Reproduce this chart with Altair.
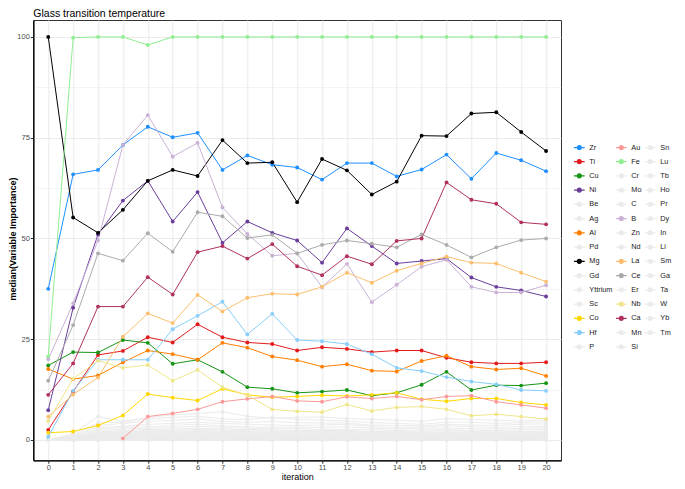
import altair as alt
import pandas as pd

iterations = list(range(21))

legend_col1 = ["Zr", "Ti", "Cu", "Ni", "Be", "Ag", "Al", "Pd", "Mg", "Gd", "Yttrium", "Sc", "Co", "Hf", "P"]
legend_col2 = ["Au", "Fe", "Cr", "Mo", "C", "B", "Zn", "Nd", "La", "Ce", "Er", "Nb", "Ca", "Mn", "Si"]
legend_col3 = ["Sn", "Lu", "Tb", "Ho", "Pr", "Dy", "In", "Li", "Sm", "Ga", "Ta", "W", "Yb", "Tm"]

highlight_colors = {
    "Zr": "#1E90FF", "Ti": "#E31A1C", "Cu": "#159415", "Ni": "#6A3D9A",
    "Al": "#FF7F00", "Mg": "#000000", "Co": "#FFD700", "Hf": "#87CEFA",
    "Au": "#FB9A99", "Fe": "#90EE90", "B": "#CAB2D6", "La": "#FDBF6F",
    "Ce": "#ABABAB", "Nb": "#F0E68C", "Ca": "#B03060",
}
GRAY = "#EBEBEB"

# highlighted series (median variable importance per iteration)
Zr = [37.5, 65.9, 67.0, 73.2, 77.7, 75.1, 76.2, 67.0, 70.6, 68.3, 67.6, 64.6, 68.7, 68.7, 65.4, 67.1, 70.8, 64.8, 71.2, 69.4, 66.7]
Ti = [2.5, 12.0, 21.1, 22.1, 25.5, 24.2, 28.7, 25.5, 24.2, 23.8, 22.2, 23.0, 22.6, 21.8, 22.2, 22.2, 20.4, 19.3, 19.0, 19.0, 19.3]
Cu = [18.5, 21.8, 21.7, 24.8, 24.1, 18.9, 19.9, 16.9, 13.1, 12.7, 11.7, 12.0, 12.4, 11.0, 11.7, 13.7, 16.9, 12.4, 13.6, 13.5, 14.1]
Ni = [7.4, 32.8, 51.0, 59.4, 64.3, 54.2, 61.5, 48.9, 54.2, 51.4, 49.5, 44.0, 52.5, 48.1, 43.8, 44.4, 45.0, 40.3, 38.0, 37.1, 35.6]
Al = [17.6, 15.1, 16.0, 19.3, 22.2, 21.3, 19.9, 24.1, 22.9, 20.7, 19.8, 18.2, 18.8, 17.2, 17.0, 19.6, 20.9, 18.2, 17.5, 17.8, 15.9]
Mg = [100.0, 55.2, 51.4, 57.1, 64.3, 67.0, 65.5, 74.4, 68.7, 68.9, 59.0, 69.7, 66.9, 60.9, 64.1, 75.5, 75.4, 81.0, 81.3, 76.4, 71.7]
Co = [1.8, 2.1, 3.6, 6.1, 11.4, 10.5, 9.8, 12.7, 11.2, 10.6, 10.8, 11.1, 10.9, 11.2, 11.7, 10.1, 9.6, 10.3, 10.3, 9.3, 8.7]
Hf = [0.8, 12.2, 19.9, 19.9, 19.9, 27.5, 30.8, 34.3, 26.2, 31.3, 24.8, 24.5, 23.8, 21.3, 17.9, 17.1, 15.6, 14.5, 13.8, 12.4, 12.2]
Au = [None, None, None, 0.4, 5.8, 6.6, 7.6, 9.5, 10.2, 10.8, 9.7, 9.5, 10.7, 10.3, 10.8, 10.0, 10.8, 11.0, 9.5, 8.7, 7.9]
Fe = [20.7, 99.8, 100.0, 100.0, 98.0, 100.0, 100.0, 100.0, 100.0, 100.0, 100.0, 100.0, 100.0, 100.0, 100.0, 100.0, 100.0, 100.0, 100.0, 100.0, 100.0]
B = [20.0, 33.9, 49.5, 73.2, 80.6, 70.3, 73.7, 57.7, 51.1, 45.7, 46.3, 37.9, 43.7, 34.2, 38.5, 43.0, 44.7, 38.0, 36.6, 36.6, 38.4]
La = [5.8, 11.3, 15.5, 25.6, 31.4, 29.0, 36.0, 31.9, 35.3, 36.3, 36.1, 38.0, 41.5, 39.0, 42.0, 43.8, 45.5, 44.0, 43.8, 41.5, 39.3]
Ce = [14.7, 28.5, 46.3, 44.5, 51.3, 46.7, 56.5, 55.5, 50.1, 50.9, 46.3, 48.4, 49.5, 48.7, 47.8, 51.0, 48.4, 45.3, 47.8, 49.6, 50.0]
Nb = [4.7, 15.2, 19.7, 17.9, 18.6, 14.7, 17.4, 13.1, 11.1, 7.6, 7.1, 6.9, 8.8, 7.2, 8.1, 8.3, 7.6, 6.0, 6.4, 5.8, 5.2]
Ca = [11.2, 19.0, 33.1, 33.1, 40.4, 36.1, 46.6, 48.1, 45.0, 48.6, 43.1, 40.9, 45.6, 43.6, 49.4, 50.0, 63.9, 59.6, 58.6, 54.0, 53.5]

# low-importance (grey) series
Be = [0.0, 1.6, 5.8, 4.6, 5.6, 6.2, 6.6, 7.0, 5.9, 5.4, 5.6, 5.7, 5.3, 5.1, 4.9, 4.6, 5.3, 5.1, 4.9, 4.7, 5.0]
Ag = [0.0, 1.2, 4.3, 4.4, 5.2, 5.6, 5.9, 5.2, 5.1, 5.6, 5.1, 4.9, 4.7, 4.3, 4.1, 3.9, 4.4, 4.4, 4.1, 4.3, 4.5]
Pd = [0.0, 0.9, 3.6, 4.1, 4.6, 4.9, 5.2, 4.6, 4.4, 4.6, 4.3, 4.2, 4.2, 3.7, 3.6, 3.5, 3.9, 3.7, 3.6, 3.9, 4.0]
Gd = [0.0, 0.7, 3.1, 3.4, 3.9, 4.1, 4.4, 4.1, 3.9, 3.7, 3.6, 3.7, 3.9, 3.3, 3.1, 3.2, 3.5, 3.3, 3.1, 3.3, 3.4]
Yttrium = [0.0, 0.6, 2.7, 3.1, 3.3, 3.6, 3.9, 3.5, 3.3, 3.1, 3.2, 3.1, 3.3, 2.9, 2.7, 2.9, 3.0, 2.8, 2.7, 2.9, 3.0]
Sc = [0.0, 0.5, 2.3, 2.7, 2.9, 3.1, 3.4, 3.1, 2.9, 2.7, 2.8, 2.6, 2.7, 2.5, 2.4, 2.5, 2.6, 2.4, 2.3, 2.5, 2.6]
P = [0.0, 0.4, 2.0, 2.3, 2.6, 2.7, 2.9, 2.7, 2.6, 2.5, 2.4, 2.3, 2.4, 2.1, 2.1, 2.2, 2.3, 2.1, 2.0, 2.1, 2.2]
Cr = [0.0, 0.4, 1.8, 2.1, 2.3, 2.4, 2.6, 2.5, 2.3, 2.2, 2.1, 2.1, 2.2, 1.9, 1.8, 1.9, 2.0, 1.9, 1.8, 1.9, 2.0]
Mo = [0.0, 0.3, 1.6, 1.9, 2.1, 2.1, 2.3, 2.2, 2.1, 2.0, 1.9, 1.9, 2.0, 1.7, 1.6, 1.7, 1.8, 1.7, 1.6, 1.7, 1.8]
C = [0.0, 0.3, 1.4, 1.7, 1.9, 1.9, 2.1, 2.0, 1.9, 1.8, 1.7, 1.7, 1.8, 1.5, 1.4, 1.5, 1.6, 1.5, 1.4, 1.5, 1.6]
Zn = [0.0, 0.3, 1.3, 1.5, 1.7, 1.7, 1.9, 1.8, 1.7, 1.6, 1.5, 1.5, 1.6, 1.3, 1.3, 1.3, 1.4, 1.3, 1.2, 1.3, 1.4]
Nd = [0.0, 0.2, 1.1, 1.3, 1.5, 1.5, 1.7, 1.6, 1.5, 1.4, 1.3, 1.3, 1.4, 1.1, 1.1, 1.1, 1.2, 1.1, 1.1, 1.1, 1.2]
Er = [0.0, 0.2, 1.0, 1.1, 1.3, 1.3, 1.5, 1.4, 1.3, 1.2, 1.1, 1.1, 1.2, 1.0, 1.0, 1.0, 1.1, 1.0, 1.0, 1.0, 1.1]
Mn = [0.0, 0.2, 0.9, 1.0, 1.1, 1.1, 1.3, 1.2, 1.1, 1.1, 1.0, 1.0, 1.1, 0.9, 0.9, 0.9, 1.0, 0.9, 0.9, 0.9, 1.0]
Si = [0.0, 0.2, 0.8, 0.9, 1.0, 1.0, 1.1, 1.1, 1.0, 1.0, 0.9, 0.9, 1.0, 0.8, 0.8, 0.8, 0.9, 0.8, 0.8, 0.8, 0.9]
Sn = [0.0, 0.1, 0.7, 0.8, 0.9, 0.9, 1.0, 1.0, 0.9, 0.9, 0.8, 0.8, 0.9, 0.7, 0.7, 0.7, 0.8, 0.7, 0.7, 0.7, 0.8]
Lu = [0.0, 0.1, 0.6, 0.7, 0.8, 0.8, 0.9, 0.9, 0.8, 0.8, 0.7, 0.7, 0.8, 0.6, 0.6, 0.6, 0.7, 0.6, 0.6, 0.6, 0.7]
Tb = [0.0, 0.1, 0.5, 0.6, 0.7, 0.7, 0.8, 0.8, 0.7, 0.7, 0.6, 0.6, 0.7, 0.5, 0.5, 0.5, 0.6, 0.5, 0.5, 0.5, 0.6]
Ho = [0.0, 0.1, 0.4, 0.5, 0.6, 0.6, 0.7, 0.7, 0.6, 0.6, 0.5, 0.5, 0.6, 0.4, 0.4, 0.4, 0.5, 0.4, 0.4, 0.4, 0.5]
Pr = [0.0, 0.1, 0.4, 0.4, 0.5, 0.5, 0.6, 0.6, 0.5, 0.5, 0.4, 0.4, 0.5, 0.4, 0.4, 0.4, 0.4, 0.4, 0.4, 0.4, 0.4]
Dy = [0.0, 0.0, 0.3, 0.4, 0.4, 0.4, 0.5, 0.5, 0.4, 0.4, 0.4, 0.4, 0.4, 0.3, 0.3, 0.3, 0.4, 0.3, 0.3, 0.3, 0.4]
In = [0.0, 0.0, 0.3, 0.3, 0.4, 0.4, 0.4, 0.4, 0.4, 0.4, 0.3, 0.3, 0.4, 0.3, 0.3, 0.3, 0.3, 0.3, 0.3, 0.3, 0.3]
Li = [0.0, 0.0, 0.2, 0.3, 0.3, 0.3, 0.4, 0.4, 0.3, 0.3, 0.3, 0.3, 0.3, 0.2, 0.2, 0.2, 0.3, 0.2, 0.2, 0.2, 0.3]
Sm = [0.0, 0.0, 0.2, 0.2, 0.3, 0.3, 0.3, 0.3, 0.3, 0.3, 0.2, 0.2, 0.3, 0.2, 0.2, 0.2, 0.2, 0.2, 0.2, 0.2, 0.2]
Ga = [0.0, 0.0, 0.1, 0.2, 0.2, 0.2, 0.3, 0.2, 0.2, 0.2, 0.2, 0.2, 0.2, 0.1, 0.1, 0.1, 0.2, 0.1, 0.1, 0.1, 0.2]
Ta = [0.0, 0.0, 0.1, 0.1, 0.2, 0.2, 0.2, 0.2, 0.2, 0.1, 0.1, 0.1, 0.1, 0.1, 0.1, 0.1, 0.1, 0.1, 0.1, 0.1, 0.1]
W = [0.0, 0.0, 0.1, 0.1, 0.1, 0.1, 0.1, 0.1, 0.1, 0.1, 0.1, 0.1, 0.1, 0.1, 0.1, 0.1, 0.1, 0.1, 0.1, 0.1, 0.1]
Yb = [0.0, 0.0, 0.0, 0.1, 0.1, 0.1, 0.1, 0.1, 0.1, 0.0, 0.0, 0.0, 0.0, 0.0, 0.0, 0.0, 0.0, 0.0, 0.0, 0.0, 0.0]
Tm = [0.0, 0.0, 0.0, 0.0, 0.0, 0.0, 0.0, 0.0, 0.0, 0.0, 0.0, 0.0, 0.0, 0.0, 0.0, 0.0, 0.0, 0.0, 0.0, 0.0, 0.0]

series = {
    "Zr": Zr, "Ti": Ti, "Cu": Cu, "Ni": Ni, "Be": Be, "Ag": Ag, "Al": Al, "Pd": Pd,
    "Mg": Mg, "Gd": Gd, "Yttrium": Yttrium, "Sc": Sc, "Co": Co, "Hf": Hf, "P": P,
    "Au": Au, "Fe": Fe, "Cr": Cr, "Mo": Mo, "C": C, "B": B, "Zn": Zn, "Nd": Nd,
    "La": La, "Ce": Ce, "Er": Er, "Nb": Nb, "Ca": Ca, "Mn": Mn, "Si": Si,
    "Sn": Sn, "Lu": Lu, "Tb": Tb, "Ho": Ho, "Pr": Pr, "Dy": Dy, "In": In, "Li": Li,
    "Sm": Sm, "Ga": Ga, "Ta": Ta, "W": W, "Yb": Yb, "Tm": Tm,
}

rows = []
for name, vals in series.items():
    for it, v in zip(iterations, vals):
        if v is None:
            continue
        rows.append({"element": name, "iteration": it, "importance": v,
                     "highlight": name in highlight_colors})
df = pd.DataFrame(rows)

# legend domain: Vega fills the 3-column grid column by column
domain = legend_col1 + legend_col2 + legend_col3
color_range = [highlight_colors.get(n, GRAY) for n in domain]

FONT = "Liberation Sans"
y_ticks = [0, 12.5, 25, 37.5, 50, 62.5, 75, 87.5, 100]
major = "datum.value % 25 === 0"

x_enc = alt.X(
    "iteration:Q",
    title="iteration",
    scale=alt.Scale(domain=[-0.6, 20.6], nice=False, zero=False),
    axis=alt.Axis(
        values=iterations, format="d", labelFontSize=7.5, labelColor="#4D4D4D",
        labelFont=FONT, labelPadding=0.5, tickSize=3, tickColor="#333333",
        domainColor="#000000", domainWidth=1.3, gridColor="#EBEBEB", gridWidth=1.1,
        titleFont=FONT, titleFontSize=9, titleFontWeight="normal", titleColor="#000000",
        titleX=264, titleY=15.8, titleBaseline="middle", labelFlush=False,
    ),
)
y_enc = alt.Y(
    "importance:Q",
    title="median(Variable Importance)",
    scale=alt.Scale(domain=[-5.04, 104.2], nice=False, zero=False),
    axis=alt.Axis(
        values=y_ticks,
        labelExpr="datum.value % 25 === 0 ? format(datum.value, 'd') : ''",
        labelFontSize=7.5, labelColor="#4D4D4D", labelFont=FONT, labelPadding=1,
        tickSize=3, tickColor="#333333",
        tickOpacity={"condition": {"test": major, "value": 1}, "value": 0},
        domainColor="#000000", domainWidth=1.3, gridColor="#EBEBEB",
        gridWidth={"condition": {"test": major, "value": 1.1}, "value": 0.55},
        titleFont=FONT, titleFontSize=9, titleFontWeight="bold", titleColor="#000000",
        titleX=-20.5, titleY=218.5, titleBaseline="middle", labelFlush=False,
    ),
)
color_enc = alt.Color(
    "element:N",
    scale=alt.Scale(domain=domain, range=color_range),
    legend=alt.Legend(title=None),
)

base = alt.Chart(df).encode(x=x_enc, y=y_enc, color=color_enc)

grey_lines = base.transform_filter("!datum.highlight").mark_line(strokeWidth=1)
grey_pts = base.transform_filter("!datum.highlight").mark_circle(size=15, opacity=1)
col_lines = base.transform_filter("datum.highlight").mark_line(strokeWidth=1)
col_pts = base.transform_filter("datum.highlight").mark_circle(size=15, opacity=1)

legend_symbol = "M-1,0L1,0M-0.37,0A0.37,0.37,0,1,1,0.37,0A0.37,0.37,0,1,1,-0.37,0Z"

chart = (
    alt.layer(grey_lines, grey_pts, col_lines, col_pts)
    .properties(
        width=527.7,
        height=440.3,
        padding={"left": 25.3, "top": 12, "right": 116, "bottom": 20.7},
        autosize=alt.AutoSizeParams(type="none"),
        title=alt.TitleParams(
            "Glass transition temperature", anchor="start", frame="group",
            font=FONT, fontSize=10.5, fontWeight="normal", color="#000000",
            offset=2, dy=1.5,
        ),
    )
    .configure_view(stroke="#333333", strokeWidth=1)
    .configure_legend(
        orient="none", legendX=540, legendY=121.3, columns=3, gridAlign="each",
        symbolType=legend_symbol, symbolSize=115, symbolStrokeWidth=1.2,
        symbolLimit=60,
        labelFont=FONT, labelFontSize=7.3, labelColor="#1A1A1A", labelOffset=4,
        columnPadding=0, rowPadding=3.25, padding=0, offset=0,
    )
)

chart.save("out.html", embed_options={"renderer": "svg", "actions": False})
